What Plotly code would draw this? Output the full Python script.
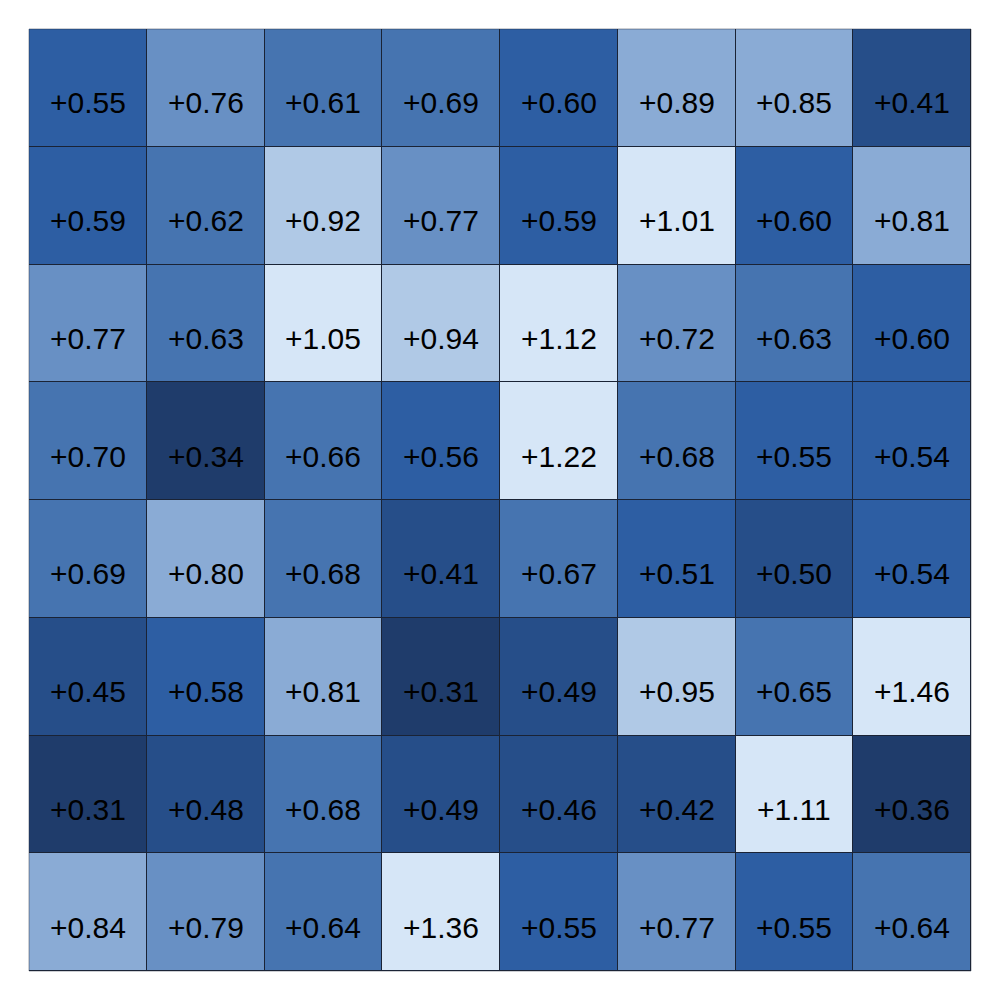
import plotly.graph_objects as go

# cell values, row by row from the top (a few are estimated just under/over the bin edge
# because the shading shows which side they fall on)
row1 = [0.55, 0.76, 0.61, 0.69, 0.598, 0.89, 0.85, 0.41]
row2 = [0.59, 0.62, 0.92, 0.77, 0.59, 1.01, 0.598, 0.81]
row3 = [0.77, 0.63, 1.05, 0.94, 1.12, 0.72, 0.63, 0.598]
row4 = [0.698, 0.34, 0.66, 0.56, 1.22, 0.68, 0.55, 0.54]
row5 = [0.69, 0.801, 0.68, 0.41, 0.67, 0.51, 0.498, 0.54]
row6 = [0.45, 0.58, 0.81, 0.31, 0.49, 0.95, 0.65, 1.46]
row7 = [0.31, 0.48, 0.68, 0.49, 0.46, 0.42, 1.11, 0.36]
row8 = [0.84, 0.79, 0.64, 1.36, 0.55, 0.77, 0.55, 0.64]
values = [row1, row2, row3, row4, row5, row6, row7, row8]

# binned blues, one colour per 0.1 step from 0.3 up to 1.0+
bin_colors = ["#1f3c6b", "#264e89", "#2d5ea3", "#4674b0", "#6890c4",
              "#8aabd5", "#b0c9e6", "#d6e6f7"]
zmin, zmax = 0.3, 1.1

n = len(bin_colors)
colorscale = []
for i, c in enumerate(bin_colors):
    colorscale.append([i / n, c])
    colorscale.append([(i + 1) / n, c])

cols = list(range(len(row1)))
rows = list(range(len(values)))

fig = go.Figure(go.Heatmap(
    z=values, x=cols, y=rows,
    colorscale=colorscale, zmin=zmin, zmax=zmax,
    showscale=False, xgap=1, ygap=1, hoverinfo="skip",
))

# labels sit a bit below the cell centre in the reference
for r, row in enumerate(values):
    for c, v in enumerate(row):
        fig.add_annotation(x=c, y=r, text=f"{v:+.2f}", showarrow=False, yshift=-15,
                           font=dict(family="Liberation Sans, Arial", size=30, color="#000000"))

fig.add_shape(type="rect", xref="paper", yref="paper", x0=0, y0=0, x1=1, y1=1,
              line=dict(color="rgba(30,40,60,0.45)", width=1))

fig.update_xaxes(visible=False, range=[-0.5, 7.5])
fig.update_yaxes(visible=False, range=[7.5, -0.5])
# page body adds 8px, so the figure is a bit smaller than the window
fig.update_layout(
    width=984, height=984,
    margin=dict(l=21, r=21, t=21, b=21),
    plot_bgcolor="#1a2335", paper_bgcolor="white",
)

fig.write_html("out.html")
